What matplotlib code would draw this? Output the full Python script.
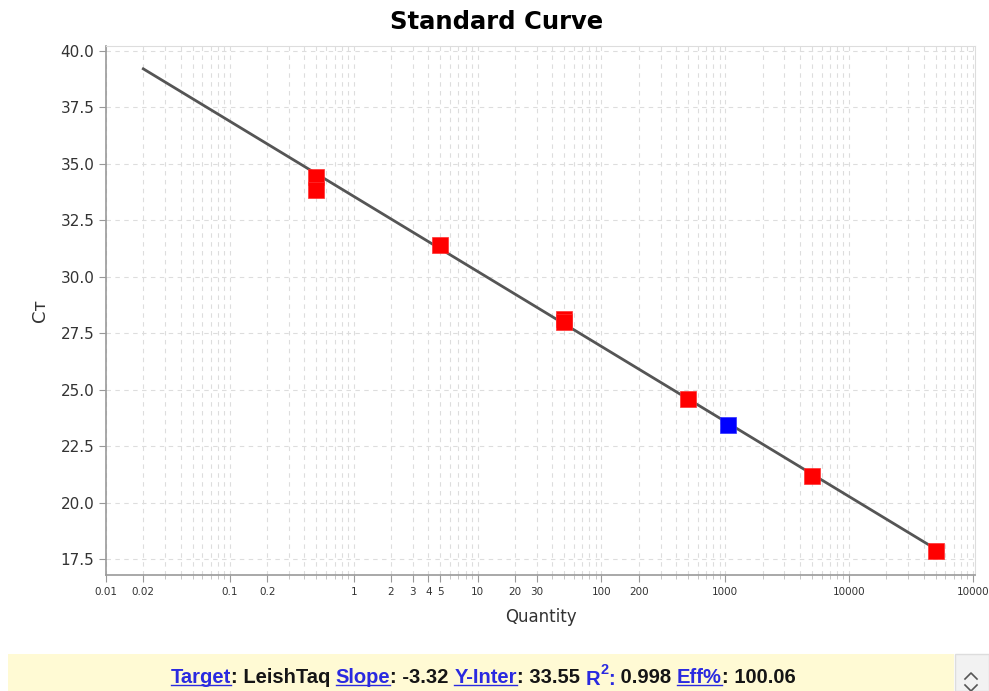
import matplotlib
matplotlib.use("Agg")
import matplotlib.pyplot as plt
import numpy as np
from matplotlib.lines import Line2D
from matplotlib.patches import Rectangle

plt.rcParams["font.family"] = ["DejaVu Sans"]

# standard points (quantity, Ct)
std_qty = [0.5, 0.5, 5, 50, 50, 500, 5000, 50000]
std_ct = [34.41, 33.85, 31.40, 28.14, 27.97, 24.57, 21.16, 17.85]
unk_qty = [1050]
unk_ct = [23.42]

slope = -3.32
y_inter = 33.55
fit_range = [0.02, 50000]

xtick_vals = [0.01, 0.02, 0.1, 0.2, 1, 2, 3, 4, 5, 10, 20, 30, 100, 200, 1000, 10000, 100000]
xtick_labels = ["0.01", "0.02", "0.1", "0.2", "1", "2", "3", "4", "5", "10", "20", "30",
                "100", "200", "1000", "10000", "10000"]
ytick_vals = [17.5, 20.0, 22.5, 25.0, 27.5, 30.0, 32.5, 35.0, 37.5, 40.0]

fig = plt.figure(figsize=(9.89, 6.91), dpi=100)
ax = fig.add_axes([0.1072, 0.1679, 0.8786, 0.7655])

# fit line
fx = np.array(fit_range)
ax.plot(fx, y_inter + slope * np.log10(fx), color="#555555", lw=2, zorder=3)
ax.plot(std_qty, std_ct, "s", color="red", ms=11, mec="#ff3030", mew=0.5, zorder=4)
ax.plot(unk_qty, unk_ct, "s", color="blue", ms=11, mec="#3030ff", mew=0.5, zorder=4)

ax.set_xscale("log")
ax.set_xlim(0.01, 1e5 * 10 ** (2 / 124))
ax.set_ylim(16.8, 40.2)
ax.set_xticks(xtick_vals)
ax.set_xticklabels(xtick_labels, fontsize=7.5, color="#333333")
ax.set_yticks(ytick_vals)
ax.set_yticklabels([f"{v:.1f}" for v in ytick_vals], fontsize=11, color="#333333")
ax.xaxis.set_minor_locator(matplotlib.ticker.LogLocator(base=10, subs=np.arange(2, 10)))
ax.xaxis.set_minor_formatter(matplotlib.ticker.NullFormatter())

ax.grid(True, which="both", axis="x", ls=(0, (4, 4)), color="#dddddd", lw=0.8)
ax.grid(True, which="major", axis="y", ls=(0, (4, 4)), color="#dddddd", lw=0.8)
ax.set_axisbelow(True)

for s in ["left", "bottom"]:
    ax.spines[s].set_color("#999999")
    ax.spines[s].set_linewidth(1.2)
for s in ["top", "right"]:
    ax.spines[s].set_color("#dddddd")
ax.tick_params(axis="both", which="major", color="#999999", length=5, direction="out")
ax.tick_params(axis="x", which="minor", color="#bbbbbb", length=3)

fig.text(497 / 989, 1 - 22 / 691, "Standard Curve", fontsize=17.5, fontweight="heavy",
         ha="center", va="center")
ax.set_xlabel("Quantity", fontsize=12, color="#333333", labelpad=8)
ax.set_ylabel("C\u1d1b", fontsize=13, color="#333333", labelpad=8)

# status bar at the bottom
fig.patches.append(Rectangle((8 / 989, 0), 946 / 989, 37 / 691, transform=fig.transFigure,
                             facecolor="#fffad4", edgecolor="none"))
fig.patches.append(Rectangle((955 / 989, 0), 34 / 989, 37 / 691, transform=fig.transFigure,
                             facecolor="#f2f2f2", edgecolor="#dddddd"))
for cy, d in [(676, 1), (688, -1)]:
    y0 = 1 - cy / 691
    fig.add_artist(Line2D([965 / 989, 971 / 989, 977 / 989],
                          [y0 - d * 3 / 691, y0 + d * 3 / 691, y0 - d * 3 / 691],
                          transform=fig.transFigure, color="#555555", lw=1.2))

# (text, kind): "link" underlined blue, "low" lowered blue, "sup" superscript blue
pieces = [("Target", "link"), (": LeishTaq ", ""), ("Slope", "link"), (": -3.32 ", ""),
          ("Y-Inter", "link"), (": 33.55 ", ""), ("R", "low"), ("2", "sup"), (":", "low"),
          (" 0.998 ", ""), ("Eff%", "link"), (": 100.06", "")]

fig.canvas.draw()
renderer = fig.canvas.get_renderer()
base_y = 1 - 683 / 691
texts = []
for txt, kind in pieces:
    size = 10.5 if kind == "sup" else 14.5
    color = "#2a2ae0" if kind else "#151515"
    t = fig.text(0, base_y, txt, fontsize=size, fontweight="bold", color=color,
                 va="baseline", ha="left", family="Liberation Sans")
    texts.append((t, kind))
widths = [t.get_window_extent(renderer).width for t, _ in texts]
total = sum(widths)
x = 483 - total / 2
for (t, kind), w in zip(texts, widths):
    xf = x / 989
    t.set_x(xf)
    if kind == "sup":
        t.set_y(base_y + 9 / 691)
    elif kind == "low":
        t.set_y(base_y - 2 / 691)
    if kind == "link":
        fig.add_artist(Line2D([xf, (x + w) / 989], [base_y - 2 / 691] * 2,
                              transform=fig.transFigure, color="#2a2ae0", lw=1))
    x += w

fig.savefig("out.png", dpi=100)
